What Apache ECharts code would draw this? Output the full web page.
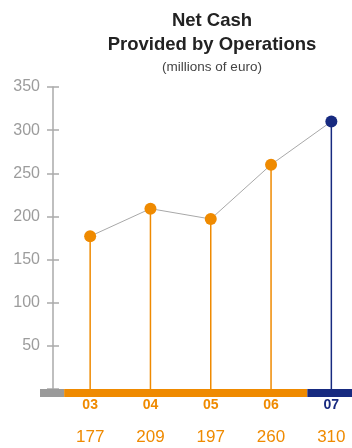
<!DOCTYPE html>
<html>
<head>
<meta charset="utf-8">
<script src="https://cdn.jsdelivr.net/npm/echarts@6/dist/echarts.min.js"></script>
<style>
  html, body { margin: 0; padding: 0; background: #fff; }
  #chart { width: 352px; height: 448px; }
</style>
</head>
<body>
<div id="chart"></div>
<script>
// Fiscal years and net cash from operations (millions of euro)
const years = ['03', '04', '05', '06', '07'];
const netCash = [177, 209, 197, 260, 310];
const yTickValues = [50, 100, 150, 200, 250, 300, 350];

const ORANGE = '#EF8A00';
const NAVY = '#172A80';
const GREY = '#9a9a9a';
const lastIdx = years.length - 1;
const colorFor = i => (i === lastIdx ? NAVY : ORANGE);

const chart = echarts.init(document.getElementById('chart'));

const rich = {
  y0: { fontFamily: 'Liberation Sans', fontWeight: 'bold', fontSize: 14, color: ORANGE, lineHeight: 17 },
  y1: { fontFamily: 'Liberation Sans', fontWeight: 'bold', fontSize: 14, color: NAVY, lineHeight: 17 },
  v: { fontFamily: 'Liberation Sans', fontSize: 17, color: ORANGE, lineHeight: 46 }
};

chart.setOption({
  animation: false,
  textStyle: { fontFamily: 'Liberation Sans' },
  title: [
    {
      text: 'Net Cash\nProvided by Operations',
      left: 207, top: 4, textAlign: 'center',
      textStyle: { fontSize: 18.5, fontWeight: 'bold', color: '#222', lineHeight: 24, fontFamily: 'Liberation Sans' }
    },
    {
      text: '(millions of euro)',
      left: 207, top: 55, textAlign: 'center',
      textStyle: { fontSize: 13.5, fontWeight: 'normal', color: '#444', fontFamily: 'Liberation Sans' }
    }
  ],
  grid: { left: 60, top: 87, width: 301.5, bottom: 59, outerBoundsMode: 'none', containLabel: false },
  xAxis: {
    type: 'category',
    data: years,
    axisLine: { show: false },
    axisTick: { show: false },
    axisLabel: {
      margin: 8,
      formatter: (val, i) => `{${i === lastIdx ? 'y1' : 'y0'}|${val}}\n{v|${netCash[i]}}`,
      rich: rich
    }
  },
  yAxis: [
    {
      type: 'value', min: 0, max: 350, interval: 50, offset: 7,
      splitLine: { show: false },
      axisLine: { show: true, lineStyle: { color: '#aaa', width: 1.5 } },
      axisTick: { show: true, length: 6, lineStyle: { color: '#aaa', width: 1.5 } },
      axisLabel: {
        margin: 13, fontSize: 16, color: '#9c9c9c', fontFamily: 'Liberation Sans',
        formatter: v => (yTickValues.includes(v) ? String(v) : '')
      }
    },
    {
      // inner half of the tick marks
      type: 'value', min: 0, max: 350, interval: 50, offset: 7, position: 'left',
      splitLine: { show: false },
      axisLine: { show: false },
      axisTick: { show: true, inside: true, length: 6, lineStyle: { color: '#aaa', width: 1.5 } },
      axisLabel: { show: false }
    }
  ],
  series: [
    {
      type: 'bar',
      data: netCash.map((v, i) => ({ value: v, itemStyle: { color: colorFor(i) } })),
      barWidth: 1.5,
      z: 2
    },
    {
      type: 'line',
      data: netCash.map((v, i) => ({ value: v, itemStyle: { color: colorFor(i) } })),
      lineStyle: { color: '#a8a8a8', width: 1 },
      symbol: 'circle',
      symbolSize: 12,
      z: 3
    }
  ]
});

// Base band under the plot: grey lead-in, orange for prior years, navy for the latest year
const xFirst = chart.convertToPixel({ xAxisIndex: 0 }, years[0]);
const xLast = chart.convertToPixel({ xAxisIndex: 0 }, years[lastIdx]);
const yZero = chart.convertToPixel({ yAxisIndex: 0 }, 0);
const bandH = 8;
chart.setOption({
  graphic: [
    { type: 'rect', shape: { x: 40, y: yZero, width: xFirst - 26 - 40, height: bandH }, style: { fill: GREY }, z: 10 },
    { type: 'rect', shape: { x: xFirst - 26, y: yZero, width: (xLast - 24) - (xFirst - 26), height: bandH }, style: { fill: ORANGE }, z: 10 },
    { type: 'rect', shape: { x: xLast - 24, y: yZero, width: 352 - (xLast - 24), height: bandH }, style: { fill: NAVY }, z: 10 }
  ]
});
</script>
</body>
</html>
